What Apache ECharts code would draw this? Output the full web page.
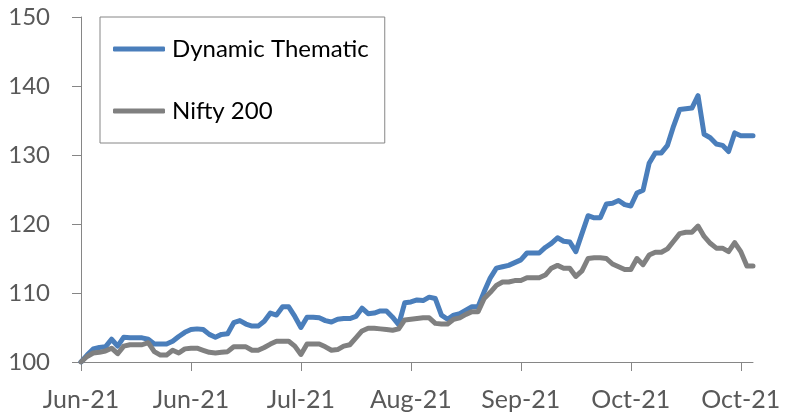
<!DOCTYPE html>
<html>
<head>
<meta charset="utf-8">
<script src="https://cdn.jsdelivr.net/npm/echarts@6/dist/echarts.min.js"></script>
<style>
  html, body { margin: 0; padding: 0; background: #fff; }
  #chart { width: 787px; height: 416px; }
</style>
</head>
<body>
<div id="chart"></div>
<script>
// 刻度标签 (每 18 个交易日一个)
const tickLabels = ['Jun-21', 'Jun-21', 'Jul-21', 'Aug-21', 'Sep-21', 'Oct-21', 'Oct-21'];
const tickEvery = 18;

// 两条序列
const dynamicThematic = [
  100.0, 101.0, 101.9, 102.1, 102.2, 103.3, 102.3, 103.6, 103.5, 103.5,
  103.5, 103.3, 102.6, 102.6, 102.6, 103.0, 103.7, 104.3, 104.7, 104.8,
  104.7, 104.0, 103.6, 104.0, 104.1, 105.7, 106.0, 105.5, 105.2, 105.2,
  105.9, 107.1, 106.8, 108.0, 108.0, 106.6, 105.0, 106.5, 106.5, 106.4,
  106.0, 105.8, 106.2, 106.3, 106.3, 106.6, 107.8, 107.0, 107.1, 107.4,
  107.4, 106.5, 105.4, 108.6, 108.7, 109.0, 108.9, 109.4, 109.2, 106.8,
  106.2, 106.8, 107.0, 107.5, 108.0, 108.0, 110.2, 112.2, 113.6, 113.8,
  114.0, 114.4, 114.8, 115.8, 115.8, 115.8, 116.6, 117.2, 118.0, 117.5,
  117.4, 116.0, 118.6, 121.2, 120.9, 120.9, 122.9, 123.0, 123.4, 122.8,
  122.6, 124.5, 124.9, 128.8, 130.3, 130.3, 131.4, 134.2, 136.6, 136.7,
  136.8, 138.6, 133.0, 132.5, 131.6, 131.4, 130.5, 133.2, 132.8, 132.8,
  132.8
];
const nifty200 = [
  100.0, 100.8, 101.3, 101.4, 101.6, 102.0, 101.2, 102.3, 102.5, 102.5,
  102.5, 102.8, 101.5, 101.0, 101.0, 101.7, 101.3, 101.9, 102.0, 102.0,
  101.7, 101.4, 101.3, 101.4, 101.5, 102.2, 102.2, 102.2, 101.7, 101.7,
  102.1, 102.6, 103.0, 103.0, 103.0, 102.3, 101.1, 102.6, 102.6, 102.6,
  102.2, 101.7, 101.8, 102.3, 102.5, 103.5, 104.5, 104.9, 104.9, 104.8,
  104.7, 104.6, 104.8, 106.1, 106.2, 106.3, 106.4, 106.4, 105.6, 105.5,
  105.5, 106.2, 106.4, 106.9, 107.3, 107.3, 109.2, 110.1, 111.1, 111.6,
  111.6, 111.8, 111.8, 112.2, 112.2, 112.2, 112.6, 113.6, 114.0, 113.6,
  113.6, 112.4, 113.2, 115.0, 115.1, 115.1, 115.0, 114.2, 113.8, 113.4,
  113.4, 115.0, 114.1, 115.5, 115.9, 115.9, 116.4, 117.5, 118.6, 118.8,
  118.8, 119.7, 118.2, 117.2, 116.5, 116.5, 116.0, 117.3, 116.0, 113.9,
  113.9
];
const days = dynamicThematic.map((_, i) => i);

const textColor = '#595959';
const axisColor = '#868686';
const font = 'Lato, "Open Sans", sans-serif';

const chart = echarts.init(document.getElementById('chart'));

chart.setOption({
  animation: false,
  backgroundColor: '#fff',
  grid: { left: 81, right: 34, top: 17, bottom: 54 },
  legend: {
    orient: 'vertical',
    left: 100,
    top: 17,
    padding: [18, 16, 18, 13],
    itemGap: 34,
    itemWidth: 52,
    itemHeight: 5,
    borderColor: axisColor,
    borderWidth: 1,
    icon: 'roundRect',
    textStyle: { color: '#000', fontFamily: font, fontSize: 24, lineHeight: 28, padding: [0, 0, 0, 2] },
    data: ['Dynamic Thematic', 'Nifty 200']
  },
  xAxis: {
    type: 'category',
    data: days,
    boundaryGap: false,
    axisLine: { lineStyle: { color: axisColor, width: 1 } },
    axisTick: { interval: tickEvery - 1, length: 9, lineStyle: { color: axisColor } },
    axisLabel: {
      interval: tickEvery - 1,
      margin: 25,
      color: textColor,
      fontFamily: font,
      fontSize: 25,
      formatter: (v, idx) => tickLabels[Math.round(idx / tickEvery)] || ''
    },
    splitLine: { show: false }
  },
  yAxis: {
    type: 'value',
    min: 100,
    max: 150,
    interval: 10,
    axisLine: { show: true, lineStyle: { color: axisColor, width: 1 } },
    axisTick: { show: true, length: 9, lineStyle: { color: axisColor } },
    axisLabel: { margin: 31, color: textColor, fontFamily: font, fontSize: 24 },
    splitLine: { show: false }
  },
  series: [
    {
      name: 'Dynamic Thematic',
      type: 'line',
      data: dynamicThematic,
      symbol: 'none',
      color: '#4a7ebb',
      lineStyle: { width: 5, color: '#4a7ebb', join: 'round', cap: 'round' }
    },
    {
      name: 'Nifty 200',
      type: 'line',
      data: nifty200,
      symbol: 'none',
      color: '#808080',
      lineStyle: { width: 5, color: '#808080', join: 'round', cap: 'round' }
    }
  ]
});
</script>
</body>
</html>
